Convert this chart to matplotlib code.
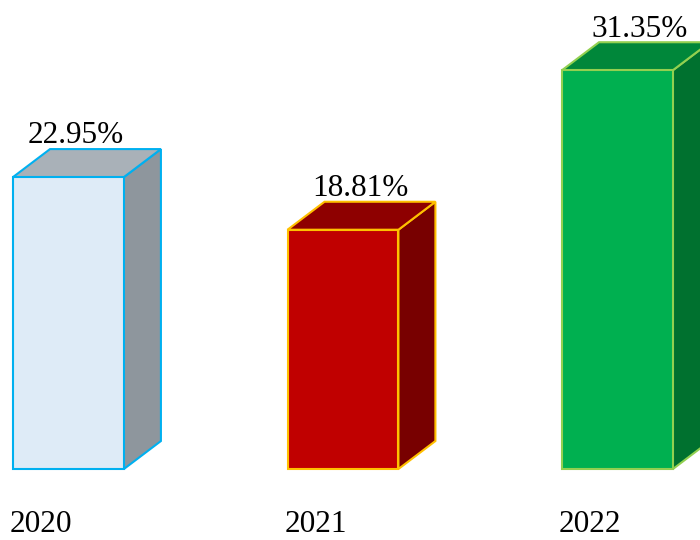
import matplotlib.pyplot as plt
from matplotlib.patches import Polygon

years = ['2020', '2021', '2022']
rates = [22.95, 18.81, 31.35]
front_colors = ['#DEEBF7', '#C00000', '#00B050']
top_colors = ['#A9B1B8', '#8E0000', '#00873A']
side_colors = ['#8E969D', '#780000', '#00712F']
edge_colors = ['#00B0F0', '#FFC000', '#92D050']
label_shift = [0.026, 0.064, 0.080]   # value label offset from bar center

plt.rcParams['font.family'] = ['Liberation Serif', 'DejaVu Serif']

fig = plt.figure(figsize=(7, 5.4), dpi=100)
ax = fig.add_axes([0, 0, 1, 1])
ax.set_xlim(-0.2494, 2.3007)
ax.set_ylim(-5.58, 36.87)
ax.axis('off')

# fake 3d box: front face + top + right side
w = 0.404      # front width
dx = 0.1348    # depth offset in x
dy = 2.20      # depth offset in y

for i, v in enumerate(rates):
    x0 = i - w / 2
    x1 = i + w / 2
    front = Polygon([(x0, 0), (x1, 0), (x1, v), (x0, v)], closed=True,
                    facecolor=front_colors[i], edgecolor=edge_colors[i], lw=1.5)
    top = Polygon([(x0, v), (x1, v), (x1 + dx, v + dy), (x0 + dx, v + dy)], closed=True,
                  facecolor=top_colors[i], edgecolor=edge_colors[i], lw=1.5)
    side = Polygon([(x1, 0), (x1 + dx, dy), (x1 + dx, v + dy), (x1, v)], closed=True,
                   facecolor=side_colors[i], edgecolor=edge_colors[i], lw=1.5)
    for p in (side, top, front):
        ax.add_patch(p)

    ax.text(i + label_shift[i], v + dy + 0.45, f'{v:.2f}%', ha='center', va='baseline',
            fontsize=22.5, color='black')
    ax.text(x0 - 0.012, -4.98, years[i], ha='left', va='baseline',
            fontsize=22.5, color='black')

fig.savefig('out.png', dpi=100)
